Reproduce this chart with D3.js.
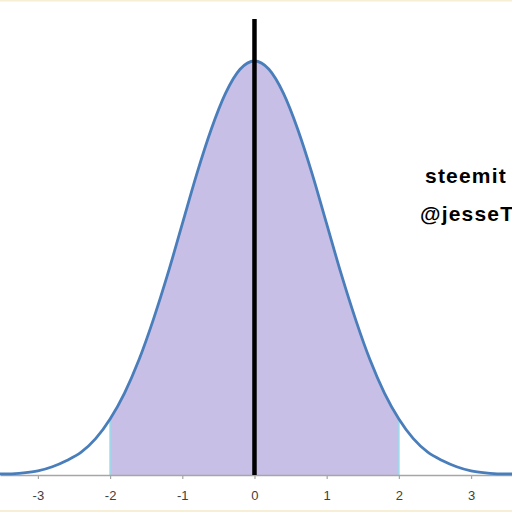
<!DOCTYPE html>
<html><head><meta charset="utf-8">
<script src="https://cdn.jsdelivr.net/npm/d3@7/dist/d3.min.js"></script>
<style>html,body{margin:0;padding:0;background:#fff;}svg{display:block;}</style>
</head><body>
<script>
// Curve (z, density)
const zValues = [-3.6,-3.4,-3.2,-3.0,-2.8,-2.6,-2.4,-2.2,-2.0,-1.8,-1.6,-1.4,-1.2,-1.0,-0.8,-0.6,-0.4,-0.2,0,0.2,0.4,0.6,0.8,1.0,1.2,1.4,1.6,1.8,2.0,2.2,2.4,2.6,2.8,3.0,3.2,3.4,3.6];
const density = [0.001,0.001,0.002,0.004,0.008,0.014,0.022,0.035,0.054,0.079,0.111,0.150,0.194,0.242,0.290,0.333,0.368,0.391,0.399,0.391,0.368,0.333,0.290,0.242,0.194,0.150,0.111,0.079,0.054,0.035,0.022,0.014,0.008,0.004,0.002,0.001,0.001];
const tickValues = [-3,-2,-1,0,1,2,3];
const shadeRange = [-2, 2];
const meanValue = 0;
const labels = ["steemit", "@jesseT"];

const W = 512, H = 512;
const svg = d3.select("body").append("svg").attr("width", W).attr("height", H);
svg.append("rect").attr("width", W).attr("height", H).attr("fill", "#fff");

const x = d3.scaleLinear().domain([-3.525, 3.567]).range([0, 512]);
const y = d3.scaleLinear().domain([0, 0.399]).range([475, 61]);

const pts = zValues.map((z, i) => ({z, d: density[i]}));
const shaded = pts.filter(p => p.z >= shadeRange[0] && p.z <= shadeRange[1]);

const area = d3.area().x(p => x(p.z)).y0(y(0)).y1(p => y(p.d)).curve(d3.curveMonotoneX);
svg.append("path").datum(shaded).attr("d", area).attr("fill", "#c7bfe6");

// light blue boundary lines
shadeRange.forEach(v => {
  const d = density[zValues.findIndex(z => Math.abs(z - v) < 1e-9)];
  svg.append("line").attr("x1", x(v)).attr("x2", x(v)).attr("y1", y(d)).attr("y2", y(0))
    .attr("stroke", "#9fd8ea").attr("stroke-width", 1.6);
});

// axis
const axis = d3.axisBottom(x).tickValues(tickValues).tickSize(4).tickSizeOuter(0)
  .tickFormat(d => String(d));
const g = svg.append("g").attr("transform", `translate(0,${y(0)})`).call(axis);
g.select(".domain").attr("stroke", "#a6a6a6").attr("stroke-width", 1.5);
g.selectAll(".tick line").attr("stroke", "#a6a6a6").attr("stroke-width", 1.2);
g.selectAll(".tick text").attr("fill", "#404040").attr("font-family", "Liberation Sans, Arial, sans-serif")
  .attr("font-size", 13).attr("y", 25).attr("dy", 0);

// curve
const line = d3.line().x(p => x(p.z)).y(p => y(p.d)).curve(d3.curveMonotoneX);
svg.append("path").datum(pts).attr("d", line).attr("fill", "none").attr("stroke", "#4a7ebb").attr("stroke-width", 2.8);

// mean line
svg.append("line").attr("x1", x(meanValue)).attr("x2", x(meanValue)).attr("y1", 19).attr("y2", y(0))
  .attr("stroke", "#000").attr("stroke-width", 4.5);

// labels
svg.append("text").attr("x", 425).attr("y", 183).text(labels[0])
  .attr("font-family", "Liberation Sans, Arial, sans-serif").attr("font-weight", "bold").attr("font-size", 21)
  .attr("letter-spacing", 1.2).attr("fill", "#000");
svg.append("text").attr("x", 420).attr("y", 221).text(labels[1])
  .attr("font-family", "Liberation Sans, Arial, sans-serif").attr("font-weight", "bold").attr("font-size", 21)
  .attr("letter-spacing", 1.2).attr("fill", "#000");

// frame bands
svg.append("rect").attr("x", 0).attr("y", 0).attr("width", W).attr("height", 1.5).attr("fill", "#f6efd6");
svg.append("rect").attr("x", 0).attr("y", 510).attr("width", W).attr("height", 2).attr("fill", "#f6efd6");
</script>
</body></html>
